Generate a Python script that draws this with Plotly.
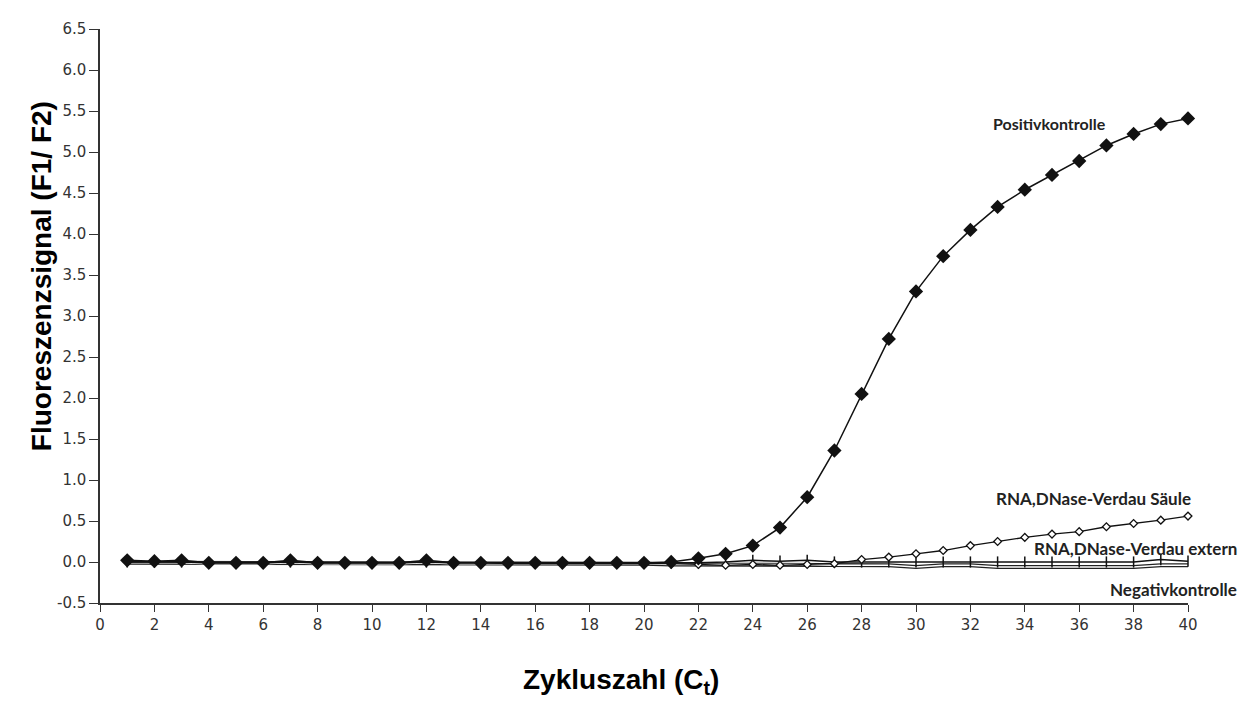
import plotly.graph_objects as go

# Zyklen 1..40
cycles = list(range(1, 41))

# Fluoreszenzsignal je Probe
positiv = [0.02, 0.01, 0.02, -0.01, -0.01, -0.01, 0.02, -0.01, -0.01, -0.01,
           -0.01, 0.02, -0.01, -0.01, -0.01, -0.01, -0.01, -0.01, -0.01, -0.01,
           0.0, 0.045, 0.10, 0.20, 0.42, 0.79, 1.36, 2.05, 2.72, 3.30,
           3.73, 4.05, 4.33, 4.54, 4.72, 4.89, 5.08, 5.22, 5.34, 5.41]
saeule = [0.0, 0.0, 0.0, -0.01, -0.01, -0.01, 0.0, -0.01, -0.01, -0.01,
          -0.01, 0.0, -0.01, -0.01, -0.02, -0.02, -0.02, -0.02, -0.02, -0.02,
          -0.02, -0.03, -0.04, -0.03, -0.04, -0.03, -0.02, 0.03, 0.06, 0.10,
          0.14, 0.20, 0.25, 0.30, 0.34, 0.37, 0.43, 0.47, 0.51, 0.56]
extern = [0.0, 0.0, 0.0, -0.01, -0.01, -0.01, 0.0, -0.01, -0.01, -0.01,
          -0.01, 0.0, -0.01, -0.01, -0.01, -0.01, -0.01, -0.01, -0.01, -0.01,
          -0.01, -0.01, 0.0, 0.02, 0.01, 0.02, 0.0, 0.0, 0.0, 0.0,
          0.0, 0.0, 0.0, 0.0, 0.0, 0.0, 0.0, 0.0, 0.03, 0.01]
negativ = [-0.01, -0.01, -0.01, -0.02, -0.02, -0.02, -0.01, -0.02, -0.02, -0.02,
           -0.02, -0.01, -0.02, -0.02, -0.02, -0.02, -0.02, -0.02, -0.02, -0.02,
           -0.03, -0.03, -0.03, -0.03, -0.03, -0.03, -0.04, -0.04, -0.04, -0.06,
           -0.04, -0.04, -0.06, -0.06, -0.06, -0.06, -0.06, -0.06, -0.04, -0.04]

x_ticks = list(range(0, 41, 2))
y_ticks = [-0.5, 0.0, 0.5, 1.0, 1.5, 2.0, 2.5, 3.0, 3.5, 4.0, 4.5, 5.0, 5.5, 6.0, 6.5]
y_labels = ["-0.5", "0.0", "0.5", "1.0", "1.5", "2.0", "2.5", "3.0", "3.5",
            "4.0", "4.5", "5.0", "5.5", "6.0", "6.5"]

fig = go.Figure()

# Negativkontrolle: hohle Linie (schwarz mit weissem Kern)
fig.add_trace(go.Scatter(x=cycles, y=negativ, mode="lines",
                         line=dict(color="#222", width=4), cliponaxis=False))
fig.add_trace(go.Scatter(x=cycles, y=negativ, mode="lines",
                         line=dict(color="white", width=1.5), cliponaxis=False))
fig.add_trace(go.Scatter(x=cycles, y=extern, mode="lines+markers",
                         line=dict(color="#111", width=1.5),
                         marker=dict(symbol="line-ns", size=8,
                                     line=dict(color="#111", width=1.5)),
                         cliponaxis=False))
fig.add_trace(go.Scatter(x=cycles, y=saeule, mode="lines+markers",
                         line=dict(color="#111", width=1.3),
                         marker=dict(symbol="diamond", size=6, color="white",
                                     line=dict(color="#111", width=1.3)),
                         cliponaxis=False))
fig.add_trace(go.Scatter(x=cycles, y=positiv, mode="lines+markers",
                         line=dict(color="#111", width=1.5),
                         marker=dict(symbol="diamond", size=11, color="#111"),
                         cliponaxis=False))

lbl = dict(family="Lato, DejaVu Sans, sans-serif", size=16, color="#222")
lbl2 = dict(family="Lato, DejaVu Sans, sans-serif", size=17, color="#222")
fig.add_annotation(x=34.9, y=5.35, text="<b>Positivkontrolle</b>",
                   showarrow=False, font=lbl)
fig.add_annotation(xref="paper", x=1.005, y=0.78, text="<b>RNA,DNase-Verdau Säule</b>",
                   showarrow=False, xanchor="right", font=lbl2)
fig.add_annotation(xref="paper", x=1.047, y=0.17, text="<b>RNA,DNase-Verdau extern</b>",
                   showarrow=False, xanchor="right", font=lbl2)
fig.add_annotation(xref="paper", x=1.047, y=-0.33, text="<b>Negativkontrolle</b>",
                   showarrow=False, xanchor="right", font=lbl2)

title_font = dict(family="Liberation Sans, Arial, sans-serif", size=28, color="black")
fig.add_annotation(xref="paper", yref="paper", x=-0.07, y=0.57,
                   text="<b>Fluoreszenzsignal (F1/ F2)</b>", textangle=-90,
                   showarrow=False, font=title_font)
fig.add_annotation(xref="paper", yref="paper", x=0.479, y=-0.137,
                   text="<b>Zykluszahl (C<sub>t</sub>)</b>",
                   showarrow=False, yanchor="middle", font=title_font)

tick_font = dict(family="DejaVu Sans, sans-serif", size=15, color="#333")
fig.update_xaxes(range=[0, 40], tickvals=x_ticks, ticks="outside", ticklen=7,
                 tickcolor="#333", showline=True, linecolor="#333", linewidth=1.5,
                 showgrid=False, zeroline=False, tickfont=tick_font)
fig.update_yaxes(range=[-0.5, 6.5], tickvals=y_ticks, ticktext=y_labels,
                 ticks="outside", ticklen=9, tickcolor="#333", showline=True,
                 linecolor="#333", linewidth=1.5, showgrid=False, zeroline=False,
                 tickfont=tick_font)

fig.update_layout(width=1252, height=702, showlegend=False,
                  plot_bgcolor="white", paper_bgcolor="white",
                  margin=dict(l=92, r=72, t=12, b=107))

fig.write_html("out.html")
